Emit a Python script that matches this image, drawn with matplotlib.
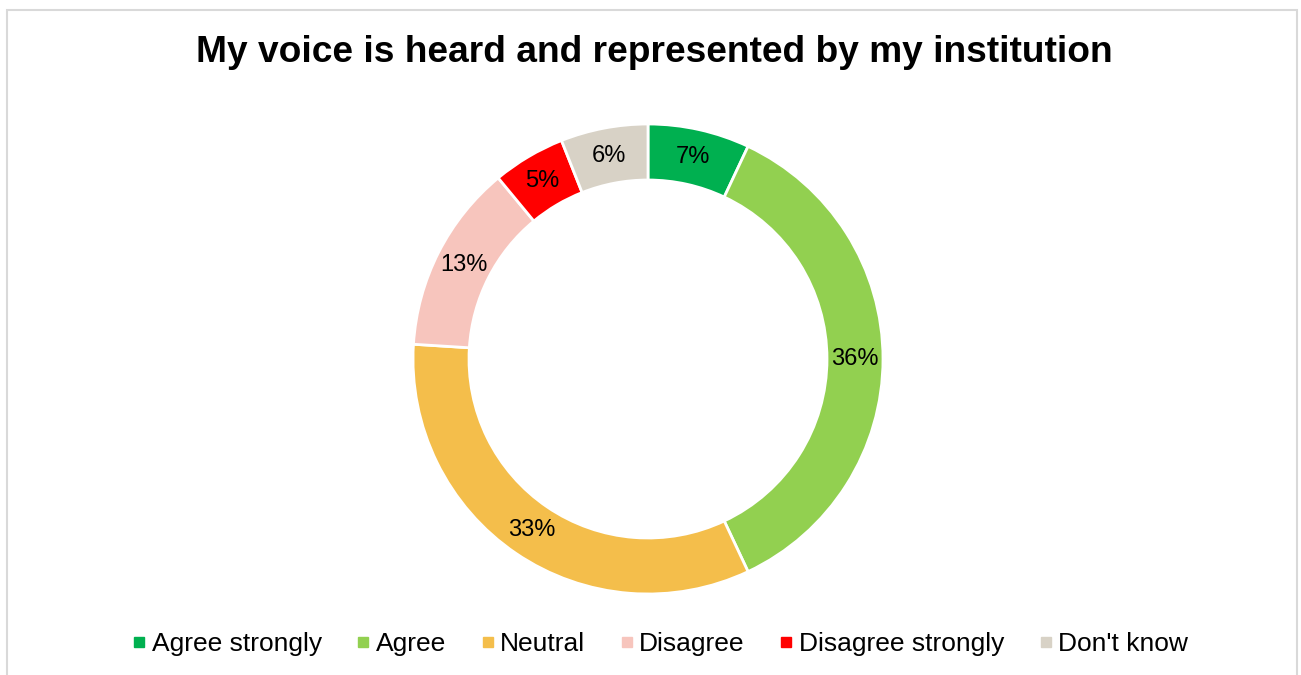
import numpy as np
import matplotlib.pyplot as plt
from matplotlib.lines import Line2D
from matplotlib.patches import Rectangle

plt.rcParams['font.family'] = ['Liberation Sans', 'DejaVu Sans']

categories = ['Agree strongly', 'Agree', 'Neutral', 'Disagree', 'Disagree strongly', "Don't know"]
shares = [7, 36, 33, 13, 5, 6]
colors = ['#00B050', '#92D050', '#F4BE4B', '#F7C5BD', '#FF0000', '#D8D2C6']

fig = plt.figure(figsize=(13.01, 6.75), dpi=100)

# light grey frame around the chart area
fig.patches.append(Rectangle((7 / 1301, -0.05), 1290 / 1301, 1.05 - 10 / 675,
                             transform=fig.transFigure, fill=False,
                             edgecolor='#D9D9D9', linewidth=1.5))

cx, cy, R = 648 / 1301, 1 - 359 / 675, 235
ax = fig.add_axes([cx - R / 1301, cy - R / 675, 2 * R / 1301, 2 * R / 675])

ring = 56 / 235
wedges, _ = ax.pie(shares, colors=colors, startangle=90, counterclock=False,
                   radius=1, wedgeprops=dict(width=ring, edgecolor='white', linewidth=2))

# percentage labels in the middle of each ring segment
for w, v in zip(wedges, shares):
    mid = np.deg2rad((w.theta1 + w.theta2) / 2)
    r = 1 - ring / 2
    ax.text(r * np.cos(mid), r * np.sin(mid), f'{v}%', ha='center', va='center',
            fontsize=17, color='black')
ax.set_xlim(-1, 1)
ax.set_ylim(-1, 1)
ax.set_aspect('equal')
ax.axis('off')

fig.text(654 / 1301, 1 - 53 / 675, 'My voice is heard and represented by my institution',
         ha='center', va='center', fontsize=26.7, fontweight='bold')

handles = [Line2D([], [], marker='s', linestyle='none', markersize=7,
                  markerfacecolor=c, markeredgecolor=c) for c in colors]
fig.legend(handles, categories, loc='center', bbox_to_anchor=(660 / 1301, 1 - 644 / 675),
           ncol=6, frameon=False, fontsize=19, handlelength=0.55,
           handletextpad=0.2, columnspacing=1.3, borderpad=0)

fig.savefig('out.png', dpi=100)
